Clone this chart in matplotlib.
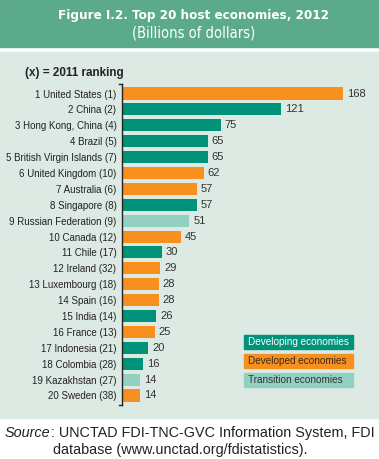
import matplotlib
matplotlib.use('Agg')
import matplotlib.pyplot as plt
from matplotlib.patches import Rectangle
from matplotlib.text import Annotation

countries = ['1 United States (1)', '2 China (2)', '3 Hong Kong, China (4)', '4 Brazil (5)',
             '5 British Virgin Islands (7)', '6 United Kingdom (10)', '7 Australia (6)',
             '8 Singapore (8)', '9 Russian Federation (9)', '10 Canada (12)', '11 Chile (17)',
             '12 Ireland (32)', '13 Luxembourg (18)', '14 Spain (16)', '15 India (14)',
             '16 France (13)', '17 Indonesia (21)', '18 Colombia (28)', '19 Kazakhstan (27)',
             '20 Sweden (38)']
values = [168, 121, 75, 65, 65, 62, 57, 57, 51, 45, 30, 29, 28, 28, 26, 25, 20, 16, 14, 14]
groups = ['dev', 'dvg', 'dvg', 'dvg', 'dvg', 'dev', 'dev', 'dvg', 'tr', 'dev',
          'dvg', 'dev', 'dev', 'dev', 'dvg', 'dev', 'dvg', 'dvg', 'tr', 'dev']

colors = {'dvg': '#009379', 'dev': '#f7901e', 'tr': '#92d0c1'}
legend_items = [('Developing economies', 'dvg', 'white'),
                ('Developed economies', 'dev', '#3a2a1a'),
                ('Transition economies', 'tr', '#333333')]

sans = ['Liberation Sans', 'DejaVu Sans']

W, H = 379, 459
fig = plt.figure(figsize=(W / 100, H / 100), dpi=100)
fig.patch.set_facecolor('white')

# header band and panel
fig.patches.append(Rectangle((0, 1 - 47 / H), 1, 47 / H, transform=fig.transFigure,
                             color='#5aaa8b', zorder=-10))
fig.patches.append(Rectangle((0, 1 - 418 / H), 1, (418 - 52) / H, transform=fig.transFigure,
                             color='#dde9e3', zorder=-10))

fig.text(193 / W, 1 - 15 / H, 'Figure I.2. Top 20 host economies, 2012', ha='center', va='center',
         color='white', fontsize=9.6, fontweight='bold', family='DejaVu Sans',
         fontstretch='condensed')
fig.text(194 / W, 1 - 33 / H, '(Billions of dollars)', ha='center', va='center',
         color='white', fontsize=10.5, family='DejaVu Sans', fontstretch='condensed')

ax = fig.add_axes([122 / W, (H - 405) / H, 237 / W, 321 / H])
ax.set_facecolor('none')
y = list(range(len(values)))
ax.barh(y, values, height=0.76, color=[colors[g] for g in groups])
for yi, v in zip(y, values):
    ax.text(v + 3, yi, str(v), va='center', ha='left', fontsize=8, color='#333333', family=sans)

ax.set_xlim(0, 180)
ax.set_ylim(19.6, -0.6)
ax.set_yticks(y)
ax.set_yticklabels(countries, fontsize=7, color='#222222', family=sans)
ax.tick_params(axis='y', length=0, pad=4)
ax.set_xticks([])
for s in ['top', 'right', 'bottom']:
    ax.spines[s].set_visible(False)
ax.spines['left'].set_color('#222222')
ax.spines['left'].set_linewidth(1)
ax.plot([-0.012, 0], [1, 1], transform=ax.transAxes, color='#222222', lw=1, clip_on=False)
ax.plot([-0.012, 0], [0, 0], transform=ax.transAxes, color='#222222', lw=1, clip_on=False)

fig.text(25 / W, 1 - 73 / H, '(x) = 2011 ranking', ha='left', va='center',
         fontsize=8.4, fontweight='bold', family=sans, color='#222222')

# legend
for i, (lab, key, tc) in enumerate(legend_items):
    yc = 342 + i * 19
    fig.patches.append(Rectangle((244 / W, 1 - (yc + 7) / H), 109 / W, 14 / H,
                                 transform=fig.transFigure, color=colors[key], zorder=1))
    fig.text(248 / W, 1 - yc / H, lab, ha='left', va='center', fontsize=7.2, family=sans, color=tc)

# source
t = fig.text(5 / W, 1 - 433 / H, 'Source', ha='left', va='center', fontsize=10.4,
             style='italic', family=sans, color='#222222')
fig.add_artist(Annotation(': UNCTAD FDI-TNC-GVC Information System, FDI', xy=(1, 0.5),
                          xycoords=t, va='center', ha='left', fontsize=10.4,
                          family=sans, color='#222222'))
fig.text(180 / W, 1 - 450 / H, 'database (www.unctad.org/fdistatistics).', ha='center',
         va='center', fontsize=10.4, family=sans, color='#222222')

fig.savefig('out.png', dpi=100)
